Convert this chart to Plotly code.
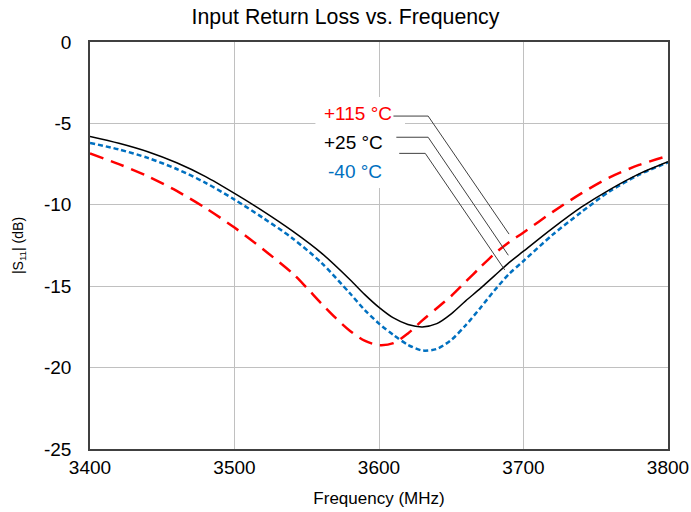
import plotly.graph_objects as go

# ---- data ----
freq_115 = [3400, 3420, 3440, 3460, 3480, 3500, 3520, 3540, 3550, 3560, 3570, 3580, 3590,
            3600, 3610, 3620, 3630, 3640, 3650, 3660, 3670, 3680, 3690, 3700, 3720, 3740,
            3760, 3780, 3800]
s11_115 = [-6.85, -7.5, -8.25, -9.15, -10.2, -11.4, -12.75, -14.2, -15.1, -16.05, -16.95, -17.75, -18.35,
           -18.62, -18.5, -17.9, -17.1, -16.35, -15.6, -14.72, -13.85, -13.0, -12.3, -11.7, -10.45, -9.3,
           -8.3, -7.55, -7.0]

freq_25 = [3400, 3420, 3440, 3460, 3480, 3500, 3520, 3540, 3560, 3580, 3590, 3600, 3610,
           3620, 3630, 3640, 3650, 3660, 3670, 3680, 3690, 3700, 3720, 3740, 3760, 3780, 3800]
s11_25 = [-5.8, -6.22, -6.74, -7.42, -8.27, -9.3, -10.4, -11.6, -12.95, -14.6, -15.5, -16.3, -16.95,
          -17.35, -17.5, -17.3, -16.7, -15.9, -15.15, -14.35, -13.55, -12.85, -11.45, -10.15, -9.05, -8.1, -7.35]

freq_m40 = [3400, 3420, 3440, 3460, 3480, 3500, 3520, 3540, 3560, 3580, 3590, 3600, 3610,
            3620, 3630, 3640, 3650, 3660, 3670, 3680, 3690, 3700, 3720, 3740, 3760, 3780, 3800]
s11_m40 = [-6.2, -6.6, -7.12, -7.8, -8.65, -9.68, -10.82, -12.05, -13.55, -15.45, -16.45, -17.3, -18.0,
           -18.6, -18.95, -18.85, -18.3, -17.4, -16.35, -15.25, -14.25, -13.45, -11.85, -10.45, -9.15, -8.15, -7.4]

x_ticks = [3400, 3500, 3600, 3700, 3800]
y_ticks = [0, -5, -10, -15, -20, -25]

FONT = "Liberation Sans, Arial, sans-serif"

fig = go.Figure()
fig.add_trace(go.Scatter(x=freq_115, y=s11_115, mode="lines", name="+115 °C",
                         line=dict(color="#FF0000", width=2.5, dash="14px,8px", shape="spline", smoothing=0.8)))
fig.add_trace(go.Scatter(x=freq_m40, y=s11_m40, mode="lines", name="-40 °C",
                         line=dict(color="#0070C0", width=2.5, dash="5px,3px", shape="spline", smoothing=0.8)))
fig.add_trace(go.Scatter(x=freq_25, y=s11_25, mode="lines", name="+25 °C",
                         line=dict(color="#000000", width=1.5, shape="spline", smoothing=0.8)))

# white label box + leader lines
shapes = [
    dict(type="rect", xref="x", yref="y", x0=3556, x1=3618, y0=-8.97, y1=-3.38,
         fillcolor="white", line=dict(width=0), layer="above"),
    dict(type="path", xref="x", yref="y", path="M 3610,-4.55 L 3634,-4.55 L 3690,-11.8",
         line=dict(color="#404040", width=1), layer="above"),
    dict(type="path", xref="x", yref="y", path="M 3612,-5.85 L 3634,-5.85 L 3689.5,-13.1",
         line=dict(color="#404040", width=1), layer="above"),
    dict(type="path", xref="x", yref="y", path="M 3614,-6.84 L 3632,-6.84 L 3687,-14.0",
         line=dict(color="#404040", width=1), layer="above"),
]

annotations = [
    dict(x=3560.5, y=-4.4, xref="x", yref="y", text="+115 °C", showarrow=False,
         xanchor="left", yanchor="middle", font=dict(family=FONT, size=19, color="#FF0000")),
    dict(x=3560.5, y=-6.15, xref="x", yref="y", text="+25 °C", showarrow=False,
         xanchor="left", yanchor="middle", font=dict(family=FONT, size=19, color="#000000")),
    dict(x=3563, y=-7.93, xref="x", yref="y", text="-40 °C", showarrow=False,
         xanchor="left", yanchor="middle", font=dict(family=FONT, size=19, color="#0070C0")),
]

fig.update_layout(
    width=691, height=512,
    margin=dict(l=90, r=23, t=42, b=63, autoexpand=False),
    paper_bgcolor="white", plot_bgcolor="white",
    showlegend=False,
    title=dict(text="Input Return Loss vs. Frequency", x=0.5, xanchor="center",
               y=1 - 17 / 512, yanchor="middle", xref="container", yref="container",
               automargin=False,
               font=dict(family=FONT, size=21.3, color="#000000")),
    font=dict(family=FONT, color="#000000"),
    shapes=shapes,
    annotations=annotations,
)
fig.update_xaxes(range=[3400, 3800], tickvals=x_ticks, ticktext=[str(v) for v in x_ticks],
                 showgrid=True, gridcolor="#C0C0C0", gridwidth=1, automargin=False,
                 showline=True, linecolor="#404040", linewidth=1.5, mirror=True,
                 ticks="", ticklabelstandoff=0, zeroline=False,
                 tickfont=dict(family=FONT, size=19, color="#000000"),
                 title=dict(text="Frequency (MHz)", standoff=16,
                            font=dict(family=FONT, size=17, color="#000000")))
fig.update_yaxes(range=[-25, 0], tickvals=y_ticks, ticktext=[str(v) for v in y_ticks],
                 showgrid=True, gridcolor="#C0C0C0", gridwidth=1, automargin=False,
                 showline=True, linecolor="#404040", linewidth=1.5, mirror=True,
                 ticks="", ticklabelstandoff=13, zeroline=False,
                 tickfont=dict(family=FONT, size=19, color="#000000"),
                 title=dict(text="|S<sub>11</sub>| (dB)", standoff=17,
                            font=dict(family=FONT, size=14, color="#000000")))

fig.write_html("out.html", config={"displayModeBar": False},
               post_script="document.body.style.margin='0';document.body.style.padding='0';")
